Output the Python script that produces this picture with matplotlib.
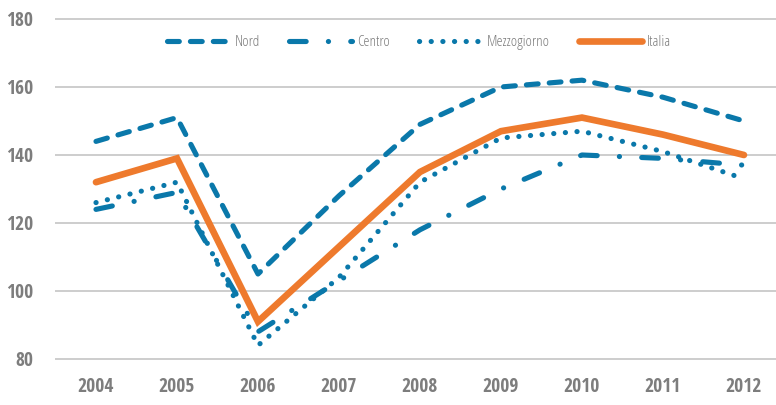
import matplotlib.pyplot as plt

plt.rcParams['lines.scale_dashes'] = False

# Series values
years = ['2004', '2005', '2006', '2007', '2008', '2009', '2010', '2011', '2012']
nord = [144, 151, 105, 128, 149, 160, 162, 157, 150]
centro = [124, 129, 88, 103, 118, 130, 140, 139, 137]
mezzogiorno = [126, 132, 84, 104, 132, 145, 147, 141, 133]
italia = [132, 139, 91, 113, 135, 147, 151, 146, 140]

BLUE = '#0a78aa'
ORANGE = '#ee7a2d'
GREY = '#7d7d7d'

fig = plt.figure(figsize=(7.76, 4.05), dpi=100)
ax = fig.add_axes([0.0715, 0.0968, 0.9394, 0.8731])

x = range(len(years))
ax.plot(x, nord, color=BLUE, lw=3.7, linestyle=(0, (8.5, 8)),
        dash_capstyle='round', label='Nord')
ax.plot(x, centro, color=BLUE, lw=3.7, linestyle=(0, (12, 16, 0.1, 16)),
        dash_capstyle='round', label='Centro')
ax.plot(x, mezzogiorno, color=BLUE, lw=3.7, linestyle=(0, (0.1, 8.3)),
        dash_capstyle='round', label='Mezzogiorno')
ax.plot(x, italia, color=ORANGE, lw=4.8, solid_capstyle='round',
        solid_joinstyle='miter', label='Italia')

ax.set_xlim(-0.5, 8.5)
ax.set_ylim(78, 182)
ax.set_yticks(range(80, 181, 20))
ax.set_xticks(list(x))
ax.set_xticklabels(years)
ax.grid(axis='y', color='#c9c9c9', lw=1.3)
ax.set_axisbelow(True)
for s in ax.spines.values():
    s.set_visible(False)
ax.tick_params(length=0, labelcolor=GREY)
ax.tick_params(axis='y', pad=16)
ax.tick_params(axis='x', pad=8)
for lab in ax.get_xticklabels() + ax.get_yticklabels():
    lab.set_fontfamily('Open Sans Condensed')
    lab.set_fontweight('bold')
    lab.set_fontsize(14)

leg = ax.legend(loc='center', bbox_to_anchor=(419 / 776, 1 - 43 / 405),
                bbox_transform=fig.transFigure, ncol=4, frameon=False,
                handlelength=4.1, handletextpad=0.35, columnspacing=1.9,
                prop={'family': 'Open Sans', 'stretch': 'condensed',
                      'weight': 300, 'size': 11})
for t in leg.get_texts():
    t.set_color(GREY)

fig.savefig('out.png', dpi=100)
